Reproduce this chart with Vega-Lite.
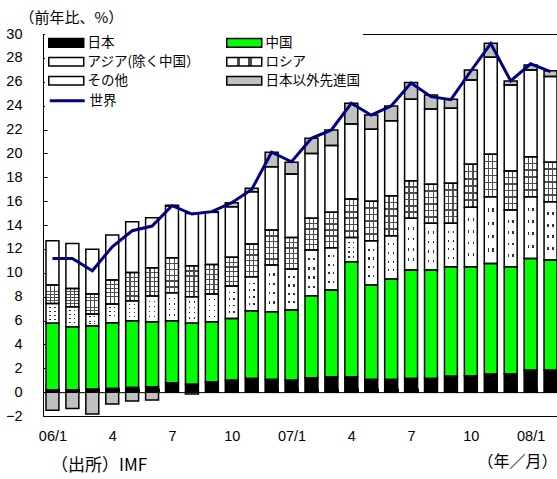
{
  "$schema": "https://vega.github.io/schema/vega-lite/v6.json",
  "width": 517,
  "height": 382,
  "autosize": {"type": "none"},
  "padding": {"left": 43, "top": 34, "right": 0, "bottom": 63},
  "background": "white",
  "title": {"text": "（出所）IMF", "orient": "bottom", "anchor": "start", "frame": "group", "font": "Noto Sans CJK JP", "fontSize": 17, "fontWeight": "normal", "color": "black", "dx": 8, "dy": -11, "offset": 0},
  "config": {"view": {"stroke": "black", "strokeWidth": 1}, "axis": {"labelOverlap": false, "grid": false}},
  "datasets": {
    "bars": [
      {"month": "06/1", "series": "日本", "value": 0.17}, {"month": "06/1", "series": "中国", "value": 5.59}, {"month": "06/1", "series": "アジア(除く中国）", "value": 1.67}, {"month": "06/1", "series": "ロシア", "value": 1.54}, {"month": "06/1", "series": "その他", "value": 3.71}, {"month": "06/1", "series": "日本以外先進国", "value": -1.51},
      {"month": "06/2", "series": "日本", "value": 0.17}, {"month": "06/2", "series": "中国", "value": 5.31}, {"month": "06/2", "series": "アジア(除く中国）", "value": 1.67}, {"month": "06/2", "series": "ロシア", "value": 1.54}, {"month": "06/2", "series": "その他", "value": 3.77}, {"month": "06/2", "series": "日本以外先進国", "value": -1.37},
      {"month": "06/3", "series": "日本", "value": 0.25}, {"month": "06/3", "series": "中国", "value": 5.28}, {"month": "06/3", "series": "アジア(除く中国）", "value": 1.01}, {"month": "06/3", "series": "ロシア", "value": 1.67}, {"month": "06/3", "series": "その他", "value": 3.75}, {"month": "06/3", "series": "日本以外先進国", "value": -1.84},
      {"month": "06/4", "series": "日本", "value": 0.31}, {"month": "06/4", "series": "中国", "value": 5.5}, {"month": "06/4", "series": "アジア(除く中国）", "value": 1.57}, {"month": "06/4", "series": "ロシア", "value": 2.01}, {"month": "06/4", "series": "その他", "value": 3.77}, {"month": "06/4", "series": "日本以外先進国", "value": -1.0},
      {"month": "06/5", "series": "日本", "value": 0.39}, {"month": "06/5", "series": "中国", "value": 5.59}, {"month": "06/5", "series": "アジア(除く中国）", "value": 1.67}, {"month": "06/5", "series": "ロシア", "value": 2.38}, {"month": "06/5", "series": "その他", "value": 4.25}, {"month": "06/5", "series": "日本以外先進国", "value": -0.75},
      {"month": "06/6", "series": "日本", "value": 0.45}, {"month": "06/6", "series": "中国", "value": 5.44}, {"month": "06/6", "series": "アジア(除く中国）", "value": 2.16}, {"month": "06/6", "series": "ロシア", "value": 2.37}, {"month": "06/6", "series": "その他", "value": 4.19}, {"month": "06/6", "series": "日本以外先進国", "value": -0.67},
      {"month": "06/7", "series": "日本", "value": 0.78}, {"month": "06/7", "series": "中国", "value": 5.2}, {"month": "06/7", "series": "アジア(除く中国）", "value": 2.34}, {"month": "06/7", "series": "ロシア", "value": 2.94}, {"month": "06/7", "series": "その他", "value": 4.33}, {"month": "06/7", "series": "日本以外先進国", "value": 0.06},
      {"month": "06/8", "series": "日本", "value": 0.67}, {"month": "06/8", "series": "中国", "value": 5.09}, {"month": "06/8", "series": "アジア(除く中国）", "value": 2.23}, {"month": "06/8", "series": "ロシア", "value": 2.6}, {"month": "06/8", "series": "その他", "value": 4.38}, {"month": "06/8", "series": "日本以外先進国", "value": -0.15},
      {"month": "06/9", "series": "日本", "value": 0.87}, {"month": "06/9", "series": "中国", "value": 5.02}, {"month": "06/9", "series": "アジア(除く中国）", "value": 2.32}, {"month": "06/9", "series": "ロシア", "value": 2.49}, {"month": "06/9", "series": "その他", "value": 4.36}, {"month": "06/9", "series": "日本以外先進国", "value": 0.05},
      {"month": "06/10", "series": "日本", "value": 1.0}, {"month": "06/10", "series": "中国", "value": 5.17}, {"month": "06/10", "series": "アジア(除く中国）", "value": 2.71}, {"month": "06/10", "series": "ロシア", "value": 2.41}, {"month": "06/10", "series": "その他", "value": 4.24}, {"month": "06/10", "series": "日本以外先進国", "value": 0.34},
      {"month": "06/11", "series": "日本", "value": 1.15}, {"month": "06/11", "series": "中国", "value": 5.67}, {"month": "06/11", "series": "アジア(除く中国）", "value": 2.85}, {"month": "06/11", "series": "ロシア", "value": 2.74}, {"month": "06/11", "series": "その他", "value": 4.38}, {"month": "06/11", "series": "日本以外先進国", "value": 0.28},
      {"month": "06/12", "series": "日本", "value": 1.06}, {"month": "06/12", "series": "中国", "value": 5.67}, {"month": "06/12", "series": "アジア(除く中国）", "value": 3.92}, {"month": "06/12", "series": "ロシア", "value": 2.93}, {"month": "06/12", "series": "その他", "value": 5.31}, {"month": "06/12", "series": "日本以外先進国", "value": 1.2},
      {"month": "07/1", "series": "日本", "value": 1.0}, {"month": "07/1", "series": "中国", "value": 5.87}, {"month": "07/1", "series": "アジア(除く中国）", "value": 3.44}, {"month": "07/1", "series": "ロシア", "value": 2.65}, {"month": "07/1", "series": "その他", "value": 5.31}, {"month": "07/1", "series": "日本以外先進国", "value": 0.98},
      {"month": "07/2", "series": "日本", "value": 1.2}, {"month": "07/2", "series": "中国", "value": 6.87}, {"month": "07/2", "series": "アジア(除く中国）", "value": 3.83}, {"month": "07/2", "series": "ロシア", "value": 2.66}, {"month": "07/2", "series": "その他", "value": 5.44}, {"month": "07/2", "series": "日本以外先進国", "value": 1.26},
      {"month": "07/3", "series": "日本", "value": 1.28}, {"month": "07/3", "series": "中国", "value": 7.27}, {"month": "07/3", "series": "アジア(除く中国）", "value": 3.55}, {"month": "07/3", "series": "ロシア", "value": 2.96}, {"month": "07/3", "series": "その他", "value": 5.59}, {"month": "07/3", "series": "日本以外先進国", "value": 1.31},
      {"month": "07/4", "series": "日本", "value": 1.28}, {"month": "07/4", "series": "中国", "value": 9.64}, {"month": "07/4", "series": "アジア(除く中国）", "value": 2.04}, {"month": "07/4", "series": "ロシア", "value": 3.22}, {"month": "07/4", "series": "その他", "value": 6.28}, {"month": "07/4", "series": "日本以外先進国", "value": 1.74},
      {"month": "07/5", "series": "日本", "value": 1.06}, {"month": "07/5", "series": "中国", "value": 7.91}, {"month": "07/5", "series": "アジア(除く中国）", "value": 3.71}, {"month": "07/5", "series": "ロシア", "value": 3.32}, {"month": "07/5", "series": "その他", "value": 6.02}, {"month": "07/5", "series": "日本以外先進国", "value": 1.2},
      {"month": "07/6", "series": "日本", "value": 1.06}, {"month": "07/6", "series": "中国", "value": 8.41}, {"month": "07/6", "series": "アジア(除く中国）", "value": 3.63}, {"month": "07/6", "series": "ロシア", "value": 3.35}, {"month": "07/6", "series": "その他", "value": 6.29}, {"month": "07/6", "series": "日本以外先進国", "value": 1.23},
      {"month": "07/7", "series": "日本", "value": 1.15}, {"month": "07/7", "series": "中国", "value": 9.08}, {"month": "07/7", "series": "アジア(除く中国）", "value": 4.33}, {"month": "07/7", "series": "ロシア", "value": 3.15}, {"month": "07/7", "series": "その他", "value": 6.82}, {"month": "07/7", "series": "日本以外先進国", "value": 1.4},
      {"month": "07/8", "series": "日本", "value": 1.15}, {"month": "07/8", "series": "中国", "value": 9.08}, {"month": "07/8", "series": "アジア(除く中国）", "value": 3.91}, {"month": "07/8", "series": "ロシア", "value": 3.27}, {"month": "07/8", "series": "その他", "value": 6.31}, {"month": "07/8", "series": "日本以外先進国", "value": 1.18},
      {"month": "07/9", "series": "日本", "value": 1.34}, {"month": "07/9", "series": "中国", "value": 9.16}, {"month": "07/9", "series": "アジア(除く中国）", "value": 3.64}, {"month": "07/9", "series": "ロシア", "value": 3.35}, {"month": "07/9", "series": "その他", "value": 6.29}, {"month": "07/9", "series": "日本以外先進国", "value": 0.75},
      {"month": "07/10", "series": "日本", "value": 1.37}, {"month": "07/10", "series": "中国", "value": 9.13}, {"month": "07/10", "series": "アジア(除く中国）", "value": 4.98}, {"month": "07/10", "series": "ロシア", "value": 3.6}, {"month": "07/10", "series": "その他", "value": 7.07}, {"month": "07/10", "series": "日本以外先進国", "value": 0.84},
      {"month": "07/11", "series": "日本", "value": 1.51}, {"month": "07/11", "series": "中国", "value": 9.27}, {"month": "07/11", "series": "アジア(除く中国）", "value": 5.59}, {"month": "07/11", "series": "ロシア", "value": 3.55}, {"month": "07/11", "series": "その他", "value": 8.13}, {"month": "07/11", "series": "日本以外先進国", "value": 1.17},
      {"month": "07/12", "series": "日本", "value": 1.51}, {"month": "07/12", "series": "中国", "value": 8.99}, {"month": "07/12", "series": "アジア(除く中国）", "value": 4.76}, {"month": "07/12", "series": "ロシア", "value": 3.26}, {"month": "07/12", "series": "その他", "value": 7.21}, {"month": "07/12", "series": "日本以外先進国", "value": 0.34},
      {"month": "08/1", "series": "日本", "value": 1.84}, {"month": "08/1", "series": "中国", "value": 9.36}, {"month": "08/1", "series": "アジア(除く中国）", "value": 5.17}, {"month": "08/1", "series": "ロシア", "value": 3.35}, {"month": "08/1", "series": "その他", "value": 7.27}, {"month": "08/1", "series": "日本以外先進国", "value": 0.42},
      {"month": "08/2", "series": "日本", "value": 1.84}, {"month": "08/2", "series": "中国", "value": 9.22}, {"month": "08/2", "series": "アジア(除く中国）", "value": 4.89}, {"month": "08/2", "series": "ロシア", "value": 3.3}, {"month": "08/2", "series": "その他", "value": 7.18}, {"month": "08/2", "series": "日本以外先進国", "value": 0.5}
    ],
    "world": [
      {"month": "06/1", "series": "世界", "value": 11.2}, {"month": "06/2", "series": "世界", "value": 11.2}, {"month": "06/3", "series": "世界", "value": 10.17}, {"month": "06/4", "series": "世界", "value": 12.18}, {"month": "06/5", "series": "世界", "value": 13.52}, {"month": "06/6", "series": "世界", "value": 13.91}, {"month": "06/7", "series": "世界", "value": 15.62}, {"month": "06/8", "series": "世界", "value": 14.92}, {"month": "06/9", "series": "世界", "value": 15.12}, {"month": "06/10", "series": "世界", "value": 15.87}, {"month": "06/11", "series": "世界", "value": 16.98}, {"month": "06/12", "series": "世界", "value": 20.1},
      {"month": "07/1", "series": "世界", "value": 19.3}, {"month": "07/2", "series": "世界", "value": 21.26}, {"month": "07/3", "series": "世界", "value": 21.96}, {"month": "07/4", "series": "世界", "value": 24.2}, {"month": "07/5", "series": "世界", "value": 23.2}, {"month": "07/6", "series": "世界", "value": 23.97}, {"month": "07/7", "series": "世界", "value": 25.9}, {"month": "07/8", "series": "世界", "value": 24.75}, {"month": "07/9", "series": "世界", "value": 24.5}, {"month": "07/10", "series": "世界", "value": 26.9}, {"month": "07/11", "series": "世界", "value": 29.2}, {"month": "07/12", "series": "世界", "value": 26.07},
      {"month": "08/1", "series": "世界", "value": 27.5}, {"month": "08/2", "series": "世界", "value": 26.85}
    ]
  },
  "layer": [
    {
      "data": {"name": "bars"},
      "transform": [{"stack": "value", "groupby": ["month"], "as": ["v0", "v1"]}],
      "encoding": {
        "x": {"field": "month", "type": "ordinal",
          "scale": {"type": "band", "domain": ["06/1","06/2","06/3","06/4","06/5","06/6","06/7","06/8","06/9","06/10","06/11","06/12","07/1","07/2","07/3","07/4","07/5","07/6","07/7","07/8","07/9","07/10","07/11","07/12","08/1","08/2"], "paddingInner": 0.35, "paddingOuter": 0.15},
          "axis": {"title": "（年／月）", "titleX": 514, "titleY": 69, "titleAlign": "right", "titleBaseline": "middle", "titleFont": "Noto Sans CJK JP", "titleFontSize": 16, "titleFontWeight": "normal", "titleColor": "black", "offset": -23.875, "domain": true, "domainColor": "black", "domainWidth": 1, "ticks": true, "tickSize": -4, "tickColor": "black", "tickWidth": 1, "tickBand": "extent", "labelAngle": 0, "labelPadding": 41, "labelFont": "Liberation Sans", "labelFontSize": 14.5, "labelColor": "black", "labelOverlap": false, "grid": false,
            "labelExpr": "indexof(['06/1','06/4','06/7','06/10','07/1','07/4','07/7','07/10','08/1'], datum.value) < 0 ? '' : (substring(datum.value, 3) == '1' ? datum.value : substring(datum.value, 3))"}},
        "y": {"field": "v0", "type": "quantitative",
          "scale": {"domain": [-2, 30], "nice": false, "zero": false},
          "axis": {"title": "（前年比、%）", "titleAngle": 0, "titleX": -24, "titleY": -17, "titleAlign": "left", "titleBaseline": "middle", "titleFont": "Noto Sans CJK JP", "titleFontSize": 15, "titleFontWeight": "normal", "titleColor": "black", "values": [-2,0,2,4,6,8,10,12,14,16,18,20,22,24,26,28,30], "domain": false, "ticks": true, "tickSize": -4, "tickColor": "black", "grid": false, "labelFont": "Liberation Sans", "labelFontSize": 14.5, "labelColor": "black", "labelPadding": 25, "labelFlush": false, "labelOverlap": false}},
        "y2": {"field": "v1"}
      },
      "layer": [
        {
          "mark": {"type": "bar"},
          "encoding": {
            "fill": {"field": "series", "type": "nominal",
              "scale": {"domain": ["日本", "アジア(除く中国）", "その他", "中国", "ロシア", "日本以外先進国"],
                "range": ["#000000", "#ffffff", "#ffffff", "#00ff00", {"expr": "{'gradient': 'linear', 'x1': 0, 'y1': 0, 'x2': 1, 'y2': 0, 'stops': [{'offset': 0, 'color': '#ffffff'}, {'offset': 0.29, 'color': '#ffffff'}, {'offset': 0.29, 'color': '#4d4d4d'}, {'offset': 0.38, 'color': '#4d4d4d'}, {'offset': 0.38, 'color': '#ffffff'}, {'offset': 0.62, 'color': '#ffffff'}, {'offset': 0.62, 'color': '#4d4d4d'}, {'offset': 0.71, 'color': '#4d4d4d'}, {'offset': 0.71, 'color': '#ffffff'}, {'offset': 1, 'color': '#ffffff'}]}"}, "#c0c0c0"]},
              "legend": {"title": null, "orient": "none", "legendX": 2, "legendY": -3.75, "columns": 2, "columnPadding": 22, "rowPadding": 2, "gridAlign": "all", "symbolType": "M-1,-0.5H3V0.5H-1Z", "symbolSize": 306, "symbolStrokeColor": "black", "symbolStrokeWidth": 1.5, "labelFont": "Noto Sans CJK JP", "labelFontSize": 13.5, "labelColor": "black", "labelOffset": 20.5, "labelLimit": 300, "fillColor": "white", "padding": 3,
                "encode": {"symbols": {"update": {"stroke": {"value": "black"}, "strokeWidth": {"value": 1.5}}}}}}
          }
        },
        {
          "transform": [{"filter": "datum.series === 'ロシア'"}],
          "mark": {"type": "bar", "fill": {"gradient": "linear", "x1": 0, "y1": 0, "x2": 0, "y2": 1, "stops": [
            {"offset": 0, "color": "rgba(0,0,0,0)"}, {"offset": 0.147, "color": "rgba(0,0,0,0)"}, {"offset": 0.147, "color": "#4d4d4d"}, {"offset": 0.187, "color": "#4d4d4d"}, {"offset": 0.187, "color": "rgba(0,0,0,0)"},
            {"offset": 0.313, "color": "rgba(0,0,0,0)"}, {"offset": 0.313, "color": "#4d4d4d"}, {"offset": 0.353, "color": "#4d4d4d"}, {"offset": 0.353, "color": "rgba(0,0,0,0)"},
            {"offset": 0.48, "color": "rgba(0,0,0,0)"}, {"offset": 0.48, "color": "#4d4d4d"}, {"offset": 0.52, "color": "#4d4d4d"}, {"offset": 0.52, "color": "rgba(0,0,0,0)"},
            {"offset": 0.647, "color": "rgba(0,0,0,0)"}, {"offset": 0.647, "color": "#4d4d4d"}, {"offset": 0.687, "color": "#4d4d4d"}, {"offset": 0.687, "color": "rgba(0,0,0,0)"},
            {"offset": 0.813, "color": "rgba(0,0,0,0)"}, {"offset": 0.813, "color": "#4d4d4d"}, {"offset": 0.853, "color": "#4d4d4d"}, {"offset": 0.853, "color": "rgba(0,0,0,0)"},
            {"offset": 1, "color": "rgba(0,0,0,0)"}]}}
        },
        {
          "transform": [{"filter": "datum.series === 'アジア(除く中国）'"}],
          "mark": {"type": "bar", "fill": {"gradient": "linear", "x1": 0, "y1": 0, "x2": 1, "y2": 0, "stops": [
            {"offset": 0, "color": "rgba(0,0,0,0)"}, {"offset": 0.26, "color": "rgba(0,0,0,0)"}, {"offset": 0.26, "color": "#333333"}, {"offset": 0.37, "color": "#333333"}, {"offset": 0.37, "color": "rgba(0,0,0,0)"},
            {"offset": 0.63, "color": "rgba(0,0,0,0)"}, {"offset": 0.63, "color": "#333333"}, {"offset": 0.74, "color": "#333333"}, {"offset": 0.74, "color": "rgba(0,0,0,0)"}, {"offset": 1, "color": "rgba(0,0,0,0)"}]}}
        },
        {
          "transform": [{"filter": "datum.series === 'アジア(除く中国）'"}],
          "mark": {"type": "bar", "fill": {"gradient": "linear", "x1": 0, "y1": 0, "x2": 0, "y2": 1, "stops": [
            {"offset": 0, "color": "#ffffff"}, {"offset": 0.175, "color": "#ffffff"}, {"offset": 0.175, "color": "rgba(0,0,0,0)"}, {"offset": 0.225, "color": "rgba(0,0,0,0)"}, {"offset": 0.225, "color": "#ffffff"},
            {"offset": 0.375, "color": "#ffffff"}, {"offset": 0.375, "color": "rgba(0,0,0,0)"}, {"offset": 0.425, "color": "rgba(0,0,0,0)"}, {"offset": 0.425, "color": "#ffffff"},
            {"offset": 0.575, "color": "#ffffff"}, {"offset": 0.575, "color": "rgba(0,0,0,0)"}, {"offset": 0.625, "color": "rgba(0,0,0,0)"}, {"offset": 0.625, "color": "#ffffff"},
            {"offset": 0.775, "color": "#ffffff"}, {"offset": 0.775, "color": "rgba(0,0,0,0)"}, {"offset": 0.825, "color": "rgba(0,0,0,0)"}, {"offset": 0.825, "color": "#ffffff"},
            {"offset": 1, "color": "#ffffff"}]}}
        },
        {
          "mark": {"type": "bar", "fill": "transparent", "stroke": "black", "strokeWidth": 1.5}
        }
      ]
    },
    {
      "data": {"name": "world"},
      "mark": {"type": "line", "strokeWidth": 3},
      "encoding": {
        "x": {"field": "month", "type": "ordinal",
          "scale": {"type": "band", "domain": ["06/1","06/2","06/3","06/4","06/5","06/6","06/7","06/8","06/9","06/10","06/11","06/12","07/1","07/2","07/3","07/4","07/5","07/6","07/7","07/8","07/9","07/10","07/11","07/12","08/1","08/2"], "paddingInner": 0.35, "paddingOuter": 0.15},
          "axis": {"title": "（年／月）", "titleX": 514, "titleY": 69, "titleAlign": "right", "titleBaseline": "middle", "titleFont": "Noto Sans CJK JP", "titleFontSize": 16, "titleFontWeight": "normal", "titleColor": "black", "offset": -23.875, "domain": true, "domainColor": "black", "domainWidth": 1, "ticks": true, "tickSize": -4, "tickColor": "black", "tickWidth": 1, "tickBand": "extent", "labelAngle": 0, "labelPadding": 41, "labelFont": "Liberation Sans", "labelFontSize": 14.5, "labelColor": "black", "labelOverlap": false, "grid": false,
            "labelExpr": "indexof(['06/1','06/4','06/7','06/10','07/1','07/4','07/7','07/10','08/1'], datum.value) < 0 ? '' : (substring(datum.value, 3) == '1' ? datum.value : substring(datum.value, 3))"}},
        "y": {"field": "value", "type": "quantitative",
          "scale": {"domain": [-2, 30], "nice": false, "zero": false},
          "axis": {"title": "（前年比、%）", "titleAngle": 0, "titleX": -24, "titleY": -17, "titleAlign": "left", "titleBaseline": "middle", "titleFont": "Noto Sans CJK JP", "titleFontSize": 15, "titleFontWeight": "normal", "titleColor": "black", "values": [-2,0,2,4,6,8,10,12,14,16,18,20,22,24,26,28,30], "domain": false, "ticks": true, "tickSize": -4, "tickColor": "black", "grid": false, "labelFont": "Liberation Sans", "labelFontSize": 14.5, "labelColor": "black", "labelPadding": 25, "labelFlush": false, "labelOverlap": false}},
        "stroke": {"field": "series", "type": "nominal",
          "scale": {"domain": ["世界"], "range": ["#000080"]},
          "legend": {"title": null, "orient": "none", "legendX": 2, "legendY": 53.25, "symbolType": "M-1,0H3", "symbolSize": 306, "symbolStrokeWidth": 3, "labelFont": "Noto Sans CJK JP", "labelFontSize": 13.5, "labelColor": "black", "labelOffset": 20.5, "padding": 3, "fillColor": "white"}}
      }
    }
  ]
}
